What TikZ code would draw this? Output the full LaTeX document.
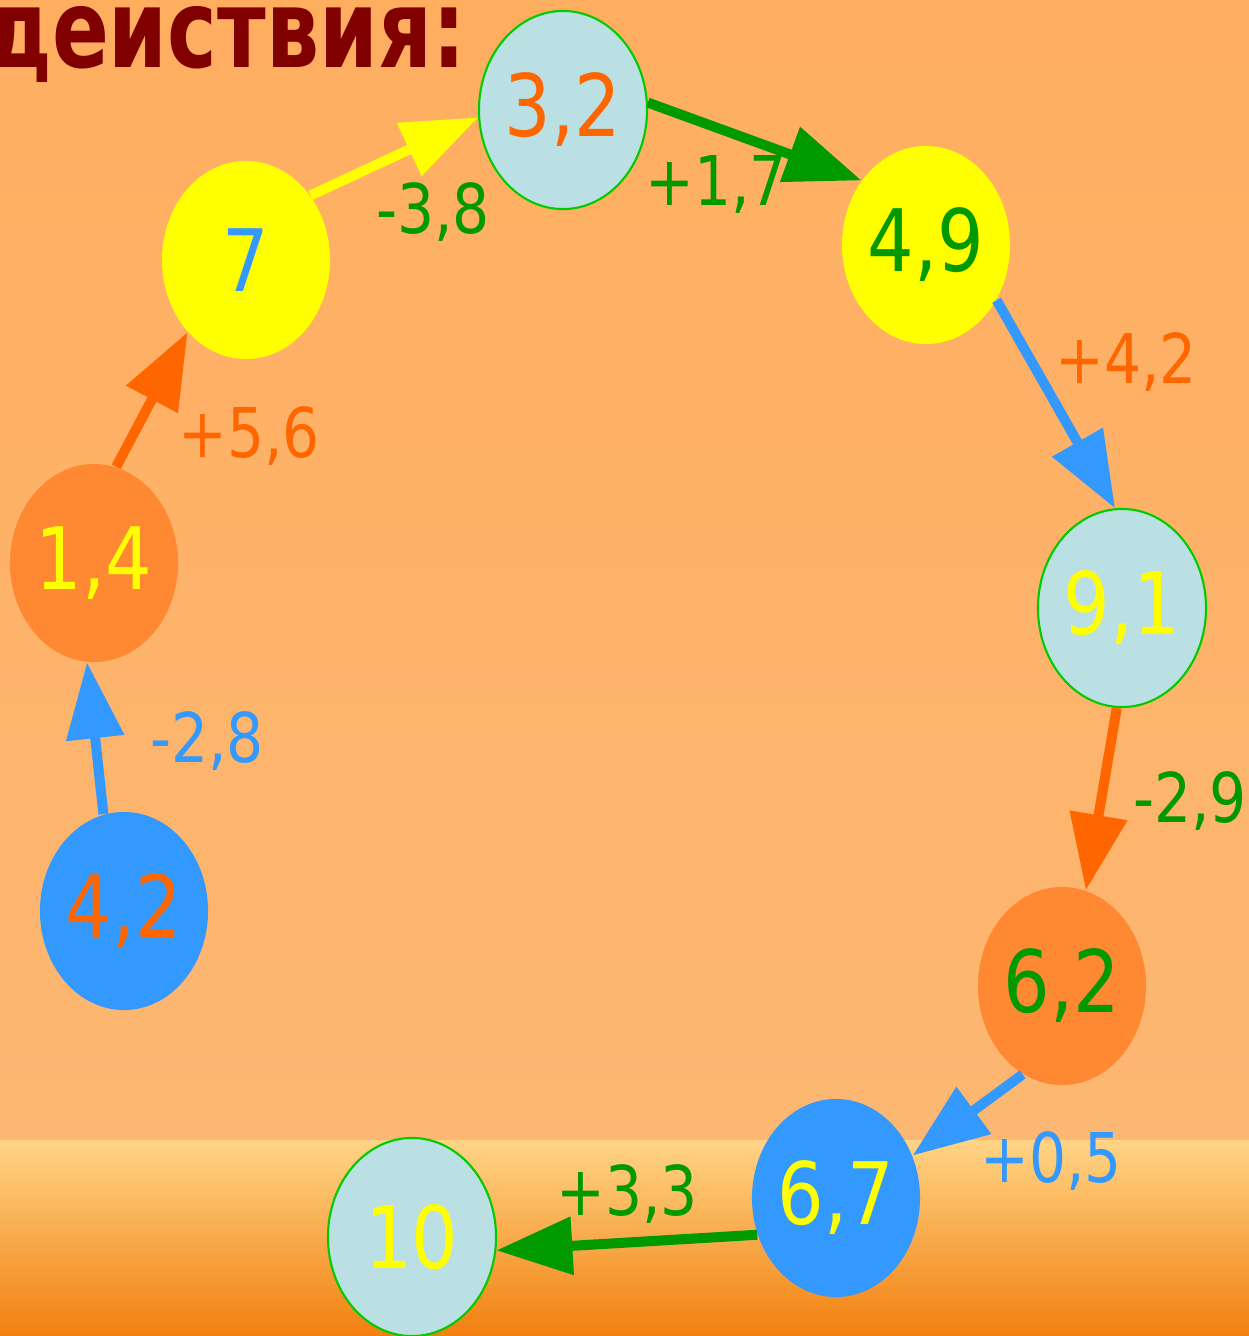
\documentclass[tikz,border=0pt]{standalone}
\usepackage{fontspec}
\setmainfont{DejaVu Sans}[FakeStretch=0.85]
\newfontfamily\headfont{DejaVu Sans}[FakeStretch=0.77]
\usepackage{tikz}
\usetikzlibrary{arrows.meta,shapes.geometric}
\definecolor{bgtop}{RGB}{255,174,96}
\definecolor{bgmid}{RGB}{252,183,114}
\definecolor{bandtop}{RGB}{255,212,133}
\definecolor{bandmid}{RGB}{248,176,80}
\definecolor{bandlow}{RGB}{242,128,16}
\definecolor{palecyan}{RGB}{187,224,227}
\definecolor{rimgreen}{RGB}{0,204,0}
\definecolor{sunyellow}{RGB}{255,255,0}
\definecolor{tangerine}{RGB}{255,136,51}
\definecolor{skyblue}{RGB}{51,153,255}
\definecolor{hotorange}{RGB}{255,102,0}
\definecolor{leafgreen}{RGB}{0,153,0}
\definecolor{maroon}{RGB}{128,0,0}

\begin{document}
\begin{tikzpicture}[x=0.01cm,y=-0.01cm,
  bubble/.style={ellipse,minimum width=1.68cm,minimum height=1.98cm,
    inner xsep=-4pt,inner ysep=0pt,font=\fontsize{24.5}{26}\selectfont},
  pale/.style={bubble,fill=palecyan,draw=rimgreen,line width=0.6pt},
  sun/.style={bubble,fill=sunyellow},
  tang/.style={bubble,fill=tangerine},
  sky/.style={bubble,fill=skyblue},
  delta/.style={anchor=base,font=\fontsize{19.5}{21}\selectfont},
  jump/.style={-{Triangle[length=7.6mm,width=5.6mm]},line width=1mm}]
  \useasboundingbox (0,0) rectangle (1249,1336);
  \shade[top color=bgtop,bottom color=bgmid] (0,0) rectangle (1249,1140);
  \shade[top color=bandtop,middle color=bandmid,bottom color=bandlow] (0,1140) rectangle (1249,1336);
  \node[anchor=base east,text=maroon,font=\headfont\bfseries\fontsize{31}{34}\selectfont] (title) at (478,67) {действия:};
  \node[sky,text=hotorange] (n42) at (124,911) {4,2};
  \node[tang,text=sunyellow] (n14) at (94,563) {1,4};
  \node[sun,text=skyblue] (n7) at (246,260) {7};
  \node[pale,text=hotorange] (n32) at (563,110) {3,2};
  \node[sun,text=leafgreen] (n49) at (926,245) {4,9};
  \node[pale,text=sunyellow] (n91) at (1122,608) {9,1};
  \node[tang,text=leafgreen] (n62) at (1062,986) {6,2};
  \node[sky,text=sunyellow] (n67) at (836,1198) {6,7};
  \node[pale,text=sunyellow] (n10) at (412,1237) {10};
  \draw[jump,skyblue] (n42.102) -- (n14.-94);
  \draw[jump,hotorange] (n14.77) -- (n7.231);
  \draw[jump,sunyellow] (n7.45) -- (n32.185);
  \draw[jump,leafgreen] (n32.5) -- (n49.135);
  \draw[jump,skyblue] (n49.-38) -- (n91.94);
  \draw[jump,hotorange] (n91.-93) -- (n62.76);
  \draw[jump,skyblue] (n62.246) -- (n67.29);
  \draw[jump,leafgreen] (n67.205) -- (n10.-9);
  \node[delta,text=skyblue] (d1) at (207,762) {-2,8};
  \node[delta,text=hotorange] (d2) at (249,457) {+5,6};
  \node[delta,text=leafgreen] (d3) at (433,233) {-3,8};
  \node[delta,text=leafgreen] (d4) at (716,205) {+1,7};
  \node[delta,text=hotorange] (d5) at (1126,383) {+4,2};
  \node[delta,text=leafgreen] (d6) at (1190,822) {-2,9};
  \node[delta,text=skyblue] (d7) at (1051,1182) {+0,5};
  \node[delta,text=leafgreen] (d8) at (627,1215) {+3,3};
\end{tikzpicture}
\end{document}
